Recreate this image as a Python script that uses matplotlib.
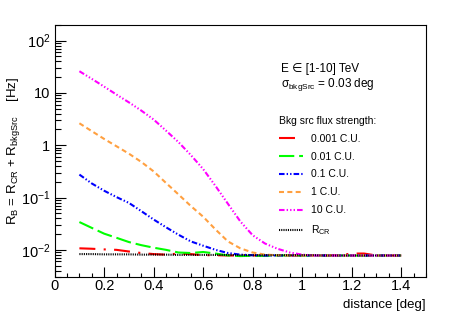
import numpy as np
import matplotlib
matplotlib.use("Agg")
import matplotlib.pyplot as plt
from matplotlib.ticker import FixedLocator, FixedFormatter, MultipleLocator, LogLocator, NullFormatter

plt.rcParams['font.family'] = ['Liberation Sans', 'DejaVu Sans']
plt.rcParams['mathtext.fontset'] = 'custom'
plt.rcParams['mathtext.rm'] = 'Liberation Sans'
plt.rcParams['mathtext.it'] = 'Liberation Sans:italic'
plt.rcParams['mathtext.bf'] = 'Liberation Sans:bold'
plt.rcParams['lines.scale_dashes'] = False

# distance [deg]
distance = [0.10, 0.15, 0.20, 0.25, 0.30, 0.35, 0.40, 0.45, 0.50, 0.55,
            0.60, 0.65, 0.70, 0.75, 0.80, 0.85, 0.90, 0.95, 1.00, 1.05,
            1.10, 1.15, 1.20, 1.25, 1.30, 1.35, 1.40]

# rates [Hz]
r_0001 = [0.0107, 0.0105, 0.0102, 0.0100, 0.0093, 0.0087, 0.0083, 0.0081, 0.0085, 0.0083,
          0.0079, 0.0079, 0.0078, 0.0078, 0.0078, 0.0078, 0.0078, 0.0078, 0.0078, 0.0078,
          0.0078, 0.0079, 0.0085, 0.0085, 0.0078, 0.0078, 0.0078]
r_001 = [0.0340, 0.0263, 0.0204, 0.0170, 0.0141, 0.0123, 0.0110, 0.0100, 0.0089, 0.0087,
         0.0091, 0.0085, 0.0078, 0.0076, 0.0077, 0.0077, 0.0078, 0.0078, 0.0078, 0.0077,
         0.0078, 0.0078, 0.0078, 0.0077, 0.0078, 0.0078, 0.0078]
r_01 = [0.275, 0.186, 0.135, 0.102, 0.079, 0.055, 0.038, 0.027, 0.0195, 0.0145,
        0.0120, 0.0100, 0.0087, 0.0081, 0.0079, 0.0078, 0.0078, 0.0078, 0.0078, 0.0078,
        0.0078, 0.0078, 0.0078, 0.0078, 0.0078, 0.0078, 0.0078]
r_1 = [2.63, 1.86, 1.32, 0.955, 0.69, 0.48, 0.316, 0.19, 0.115, 0.069,
       0.043, 0.0245, 0.0145, 0.0107, 0.0089, 0.0081, 0.0079, 0.0078, 0.0078, 0.0078,
       0.0078, 0.0078, 0.0078, 0.0078, 0.0078, 0.0078, 0.0078]
r_10 = [26.0, 18.6, 13.2, 9.3, 6.6, 4.6, 3.1, 1.9, 1.15, 0.65,
        0.35, 0.166, 0.076, 0.035, 0.019, 0.0132, 0.0105, 0.0089, 0.0081, 0.0078,
        0.0078, 0.0078, 0.0078, 0.0078, 0.0078, 0.0078, 0.0078]
r_cr = [0.0083, 0.0083, 0.0082, 0.0082, 0.0082, 0.0081, 0.0081, 0.0081, 0.0080, 0.0080,
        0.0080, 0.0080, 0.0080, 0.0079, 0.0079, 0.0079, 0.0079, 0.0079, 0.0079, 0.0079,
        0.0078, 0.0078, 0.0078, 0.0078, 0.0078, 0.0078, 0.0078]

labels = ['0.001 C.U.', '0.01 C.U.', '0.1 C.U.', '1 C.U.', '10 C.U.', 'R$_{\\mathrm{CR}}$']
ytick_vals = [1e-2, 1e-1, 1, 10, 100]
ytick_labels = ['$10^{-2}$', '$10^{-1}$', '1', '10', '$10^{2}$']

fig = plt.figure(figsize=(4.63, 3.15), dpi=100)
ax = fig.add_axes([0.118, 0.12, 0.802, 0.801])

lw = 1.5
ax.plot(distance, r_0001, color='#ff0000', lw=lw, dashes=(11.5, 6, 1.5, 6), label=labels[0])
ax.plot(distance, r_001, color='#00ff00', lw=lw, dashes=(11, 3.5), label=labels[1])
ax.plot(distance, r_01, color='#0000ff', lw=lw, dashes=(4, 1.5, 1, 1.5, 1, 1.5), label=labels[2])
ax.plot(distance, r_1, color='#ffa040', lw=lw, dashes=(3.6, 2.4), label=labels[3])
ax.plot(distance, r_10, color='#ff00ff', lw=lw, dashes=(4, 1.5, 1, 1.5, 1, 1.5, 1, 1.5), label=labels[4])
ax.plot(distance, r_cr, color='black', lw=lw, dashes=(0.8, 0.8), label=labels[5])

ax.set_yscale('log')
ax.set_xlim(0, 1.5)
ax.set_ylim(0.003, 200)

ax.xaxis.set_major_locator(MultipleLocator(0.2))
ax.xaxis.set_minor_locator(MultipleLocator(0.05))
ax.xaxis.set_major_formatter(plt.FuncFormatter(lambda v, p: '%g' % round(v, 2)))
ax.yaxis.set_major_locator(FixedLocator(ytick_vals))
ax.yaxis.set_major_formatter(FixedFormatter(ytick_labels))
ax.yaxis.set_minor_locator(LogLocator(base=10, subs=np.arange(2, 10)))
ax.yaxis.set_minor_formatter(NullFormatter())

ax.tick_params(which='both', direction='in', top=False, right=False, labelsize=10.5, width=0.8)
ax.tick_params(axis='x', which='major', length=7, pad=1.5)
ax.tick_params(axis='x', which='minor', length=3)
ax.tick_params(axis='y', which='major', length=8, pad=3)
ax.tick_params(axis='y', which='minor', length=4)
for s in ax.spines.values():
    s.set_linewidth(0.8)

ax.set_xlabel('distance [deg]', loc='right', fontsize=9.5, labelpad=4)
fig.text(0.03, 1 - 77 / 315, 'R$_{\\mathrm{B}}$ = R$_{\\mathrm{CR}}$ + R$_{\\mathrm{bkgSrc}}$    [Hz]',
         rotation=90, ha='center', va='top', fontsize=9.5)

ax.text(0.61, 0.825, 'E \u2208 [1-10] TeV', transform=ax.transAxes, fontsize=8.5, va='center')
ax.text(0.61, 0.765, '\u03c3$_{\\mathrm{bkgSrc}}$ = 0.03 deg', transform=ax.transAxes, fontsize=8.5, va='center')

leg = ax.legend(loc='upper left', bbox_to_anchor=(0.603, 0.64), frameon=False,
                title='Bkg src flux strength:', alignment='left', fontsize=7.5,
                title_fontsize=7.5, handlelength=2.3, handletextpad=0.8,
                labelspacing=0.76, borderpad=0, borderaxespad=0)

fig.savefig('out.png', dpi=100)
